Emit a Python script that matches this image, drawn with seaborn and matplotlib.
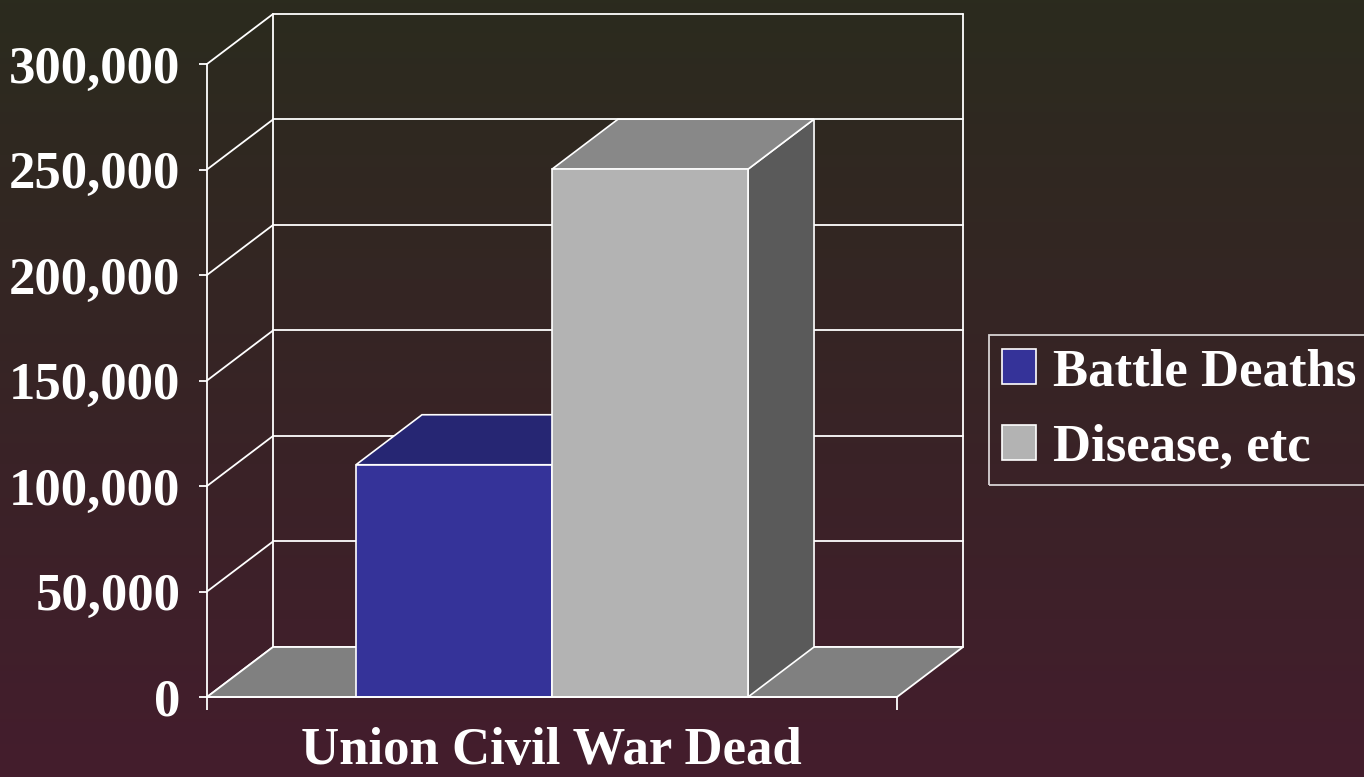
import numpy as np
import pandas as pd
import matplotlib
matplotlib.use("Agg")
import matplotlib.pyplot as plt
from matplotlib.patches import Polygon
import seaborn as sns

# data
group = "Union Civil War Dead"
causes = ["Battle Deaths", "Disease, etc"]
deaths = [110070, 250152]
y_ticks = [0, 50000, 100000, 150000, 200000, 250000, 300000]

front_colors = ["#353399", "#b3b3b3"]
top_colors = ["#262673", "#888888"]
side_colors = ["#1c1c55", "#5a5a5a"]

df = pd.DataFrame({"group": [group] * len(causes), "cause": causes, "deaths": deaths})

sns.set_theme(style="white")
plt.rcParams["font.family"] = ["Liberation Serif", "DejaVu Serif"]
plt.rcParams["font.weight"] = "bold"
FS = 38

W, H = 1364, 777
fig = plt.figure(figsize=(W / 100, H / 100), dpi=100)

# gradient background
bg = fig.add_axes([0, 0, 1, 1])
top_rgb = np.array([0x2b, 0x2b, 0x1e]) / 255
bot_rgb = np.array([0x44, 0x1d, 0x2d]) / 255
t = np.linspace(0, 1, 256)[:, None]
grad = top_rgb[None, :] * (1 - t) + bot_rgb[None, :] * t
bg.imshow(grad[:, None, :], aspect="auto", extent=[0, 1, 0, 1])
bg.set_axis_off()

# oblique depth, in data units
XL = 0.704
DX = 0.1347
DY = 23700
ymax = 300000

left_px, right_px, bot_px, top_px = 207, 963, 697, 14
ax = fig.add_axes([left_px / W, (H - bot_px) / H, (right_px - left_px) / W, (bot_px - top_px) / H])
ax.set_facecolor("none")

sns.barplot(data=df, x="group", y="deaths", hue="cause", palette=front_colors,
            width=0.8, ax=ax, edgecolor="white", linewidth=1.2, legend=False,
            saturation=1)

ax.set_xlim(-XL, XL + DX)
ax.set_ylim(0, ymax + DY)

lw = 1.3
# back wall and left wall grid
for v in y_ticks:
    ax.plot([-XL + DX, XL + DX], [v + DY, v + DY], color="white", lw=lw, zorder=1, clip_on=False)
    ax.plot([-XL, -XL + DX], [v, v + DY], color="white", lw=lw, zorder=1, clip_on=False)
ax.plot([-XL + DX, -XL + DX], [DY, ymax + DY], color="white", lw=lw, zorder=1, clip_on=False)
ax.plot([XL + DX, XL + DX], [DY, ymax + DY], color="white", lw=lw, zorder=1, clip_on=False)

# floor
floor = Polygon([(-XL, 0), (XL, 0), (XL + DX, DY), (-XL + DX, DY)], closed=True,
                facecolor="#808080", edgecolor="white", lw=lw, zorder=2, clip_on=False)
ax.add_patch(floor)

# 3d faces for each bar
for i, cont in enumerate(ax.containers):
    for p in cont.patches:
        x, w, h = p.get_x(), p.get_width(), p.get_height()
        p.set_zorder(4 + 3 * i)
        top = Polygon([(x, h), (x + w, h), (x + w + DX, h + DY), (x + DX, h + DY)], closed=True,
                      facecolor=top_colors[i], edgecolor="white", lw=1.2, zorder=3 + 3 * i)
        side = Polygon([(x + w, 0), (x + w + DX, DY), (x + w + DX, h + DY), (x + w, h)], closed=True,
                       facecolor=side_colors[i], edgecolor="white", lw=1.2, zorder=3 + 3 * i)
        ax.add_patch(side)
        ax.add_patch(top)

# axes
for s in ["top", "right"]:
    ax.spines[s].set_visible(False)
ax.spines["left"].set_bounds(0, ymax)
ax.spines["bottom"].set_bounds(-XL, XL)
for s in ["left", "bottom"]:
    ax.spines[s].set_color("white")
    ax.spines[s].set_linewidth(lw)
    ax.spines[s].set_zorder(10)

ax.set_yticks(y_ticks)
ax.set_yticklabels([f"{v:,}" for v in y_ticks])
ax.set_xticks([-XL, XL])
ax.set_xticklabels(["", ""])
ax.tick_params(axis="y", left=True, colors="white", length=6, width=lw, direction="out", pad=13, labelsize=FS)
ax.tick_params(axis="x", bottom=True, colors="white", length=9, width=lw, direction="out")
for lab in ax.get_yticklabels():
    lab.set_fontweight("bold")
ax.set_xlabel("")
ax.set_ylabel("")

fig.text(551 / W, 1 - 764 / H, group, ha="center", va="baseline", color="white",
         fontsize=FS, fontweight="bold")

# legend
handles = [cont.patches[0] for cont in ax.containers]
leg = fig.legend(handles, causes, loc="upper left", bbox_to_anchor=(989 / W, 1 - 335 / H),
                 frameon=True, fancybox=False, edgecolor="white", facecolor="none",
                 prop={"size": FS, "weight": "bold"}, handlelength=0.64, handleheight=0.64,
                 handletextpad=0.32, borderpad=0.25, labelspacing=0.52, borderaxespad=0)
leg.get_frame().set_linewidth(1.3)
for txt in leg.get_texts():
    txt.set_color("white")

fig.savefig("out.png", dpi=100)
